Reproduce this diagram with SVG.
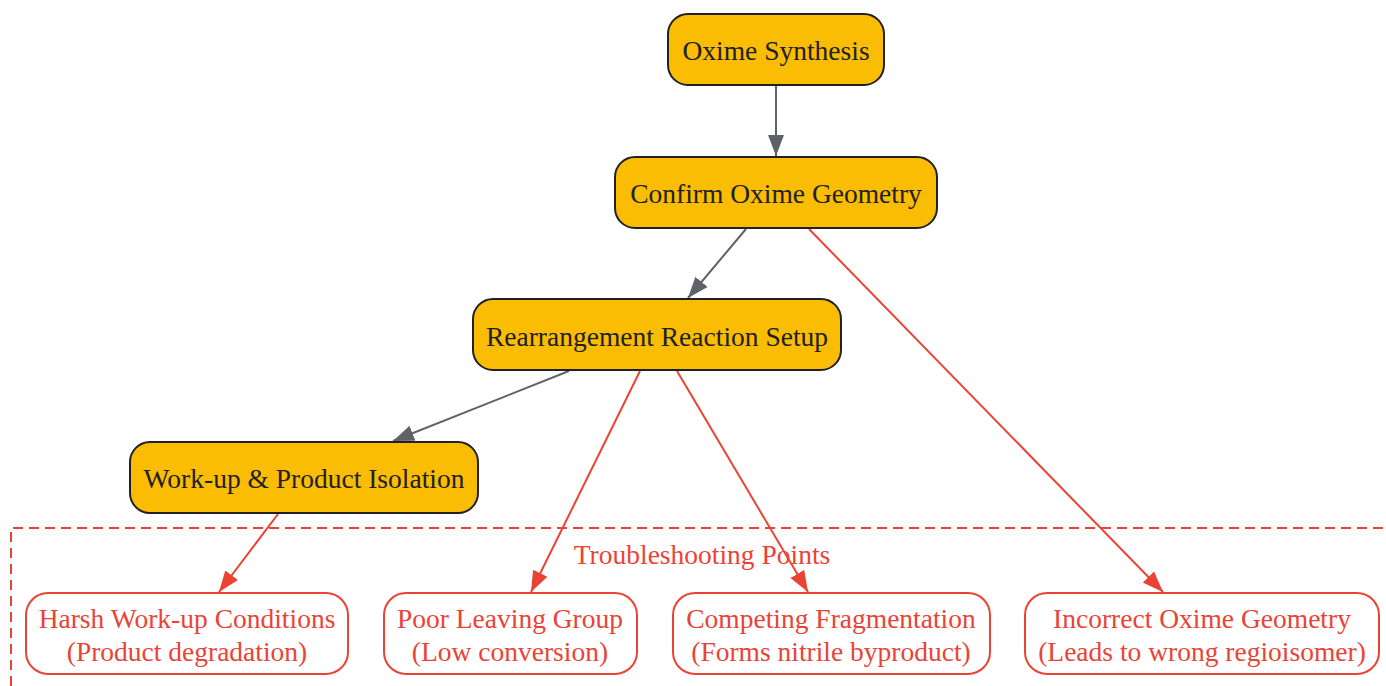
<svg xmlns="http://www.w3.org/2000/svg" width="1386" height="686" viewBox="0 0 1386 686">
<style>
text{font-family:"Liberation Serif","Times New Roman",serif;font-size:27.5px;text-anchor:middle;dominant-baseline:central}
.main rect{fill:#FBBC04;stroke:#202124;stroke-width:2}
.main text{fill:#202124}
.issue rect{fill:#ffffff;stroke:#EA4335;stroke-width:2}
.issue text{fill:#EA4335}
.g{stroke:#5F6368;stroke-width:2;fill:none;marker-end:url(#ag)}
.r{stroke:#EA4335;stroke-width:2;fill:none;marker-end:url(#ar)}
</style>
<defs>
<marker id="ag" markerUnits="userSpaceOnUse" markerWidth="22" markerHeight="18" refX="21" refY="9" orient="auto" viewBox="0 0 22 18"><path d="M0,1 L21,9 L0,17 z" fill="#5F6368"/></marker>
<marker id="ar" markerUnits="userSpaceOnUse" markerWidth="22" markerHeight="18" refX="21" refY="9" orient="auto" viewBox="0 0 22 18"><path d="M0,1 L21,9 L0,17 z" fill="#EA4335"/></marker>
</defs>
<rect width="1386" height="686" fill="#ffffff"/>
<g id="cluster">
<path d="M11,686 L11,528 L1386,528" fill="none" stroke="#EA4335" stroke-width="2" stroke-dasharray="10,6"/>
<text x="702" y="554" fill="#EA4335">Troubleshooting Points</text>
</g>
<g id="connectors">
<line class="g" x1="776" y1="85" x2="776" y2="156"/>
<line class="g" x1="746" y1="229" x2="688" y2="298"/>
<line class="g" x1="569" y1="371" x2="393" y2="441"/>
<line class="r" x1="278" y1="514" x2="219" y2="592"/>
<line class="r" x1="640" y1="371" x2="531" y2="592"/>
<line class="r" x1="677" y1="371" x2="808" y2="592"/>
<line class="r" x1="809" y1="229" x2="1163" y2="592"/>
</g>
<g id="n1" class="main"><rect x="668" y="14" width="216" height="71" rx="20"/><text x="776" y="50">Oxime Synthesis</text></g>
<g id="n2" class="main"><rect x="615" y="157" width="322" height="71" rx="20"/><text x="776" y="193">Confirm Oxime Geometry</text></g>
<g id="n3" class="main"><rect x="473" y="299" width="368" height="71" rx="20"/><text x="657" y="336">Rearrangement Reaction Setup</text></g>
<g id="n4" class="main"><rect x="130" y="442" width="348" height="71" rx="20"/><text x="304" y="478">Work-up &amp; Product Isolation</text></g>
<g id="t1" class="issue"><rect x="26" y="593" width="322" height="81" rx="22"/><text x="187" y="618">Harsh Work-up Conditions</text><text x="187" y="651">(Product degradation)</text></g>
<g id="t2" class="issue"><rect x="384" y="593" width="253" height="81" rx="22"/><text x="510" y="618">Poor Leaving Group</text><text x="510" y="651">(Low conversion)</text></g>
<g id="t3" class="issue"><rect x="673" y="593" width="317" height="81" rx="22"/><text x="831" y="618">Competing Fragmentation</text><text x="831" y="651">(Forms nitrile byproduct)</text></g>
<g id="t4" class="issue"><rect x="1025" y="593" width="354" height="81" rx="22"/><text x="1202" y="618">Incorrect Oxime Geometry</text><text x="1202" y="651">(Leads to wrong regioisomer)</text></g>
</svg>
